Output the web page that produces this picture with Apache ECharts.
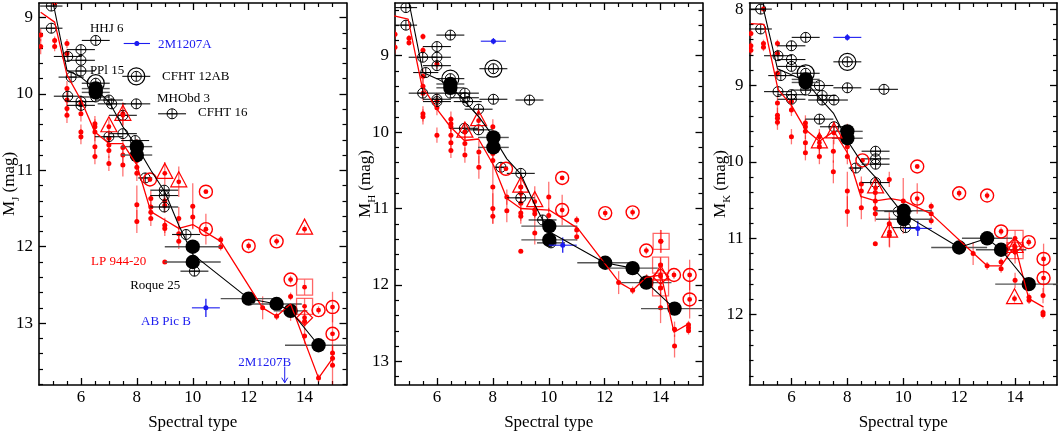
<!DOCTYPE html>
<html>
<head>
<meta charset="utf-8">
<script src="https://cdn.jsdelivr.net/npm/echarts@6/dist/echarts.min.js"></script>
<style>html,body{margin:0;background:#fff}#main{width:1058px;height:431px}</style>
</head>
<body>
<div id="main"></div>
<script>
var FONT = '"Liberation Serif", "DejaVu Serif", serif';
var RED = '#ff0000', RED_T = 'rgba(255,0,0,0.55)', BLUE = '#1c1cf0';

// ticks
var xMajor = [6, 8, 10, 12, 14];
var xMinor = [5, 5.5, 6.5, 7, 7.5, 8.5, 9, 9.5, 10.5, 11, 11.5, 12.5, 13, 13.5, 14.5, 15];
var yMajorJ = [9, 10, 11, 12, 13];
var yMajorH = [9, 10, 11, 12, 13];
var yMajorK = [8, 9, 10, 11, 12];

// ---- M_J panel ----  [spt, mag, err]
var jDots = [[4.56,9.23,0.08],[4.56,9.38,0.1],[5.06,8.81,0.03],[5.06,9.30,0.05],[5.06,9.38,0.06],
  [5.5,9.34,0.06],[5.5,9.47,0.06],[5.5,9.93,0.1],[5.5,10.08,0.1],[5.5,10.19,0.1],[5.5,10.28,0.1],
  [6.0,10.13,0.1],[6.0,10.26,0.1],[6.0,10.5,0.1],[6.0,10.56,0.1],
  [6.5,10.39,0.1],[6.5,10.43,0.1],[6.5,10.5,0.12],[6.5,10.69,0.15],[6.5,10.82,0.1],
  [7.0,10.58,0.1],[7.0,10.67,0.1],[7.0,10.74,0.1],[7.0,10.91,0.1],
  [7.5,10.26,0.15],[7.5,10.7,0.12],[7.5,10.8,0.12],[7.5,10.93,0.15],
  [8.0,10.69,0.1],[8.0,10.78,0.1],[8.0,10.87,0.1],[8.0,10.96,0.1],[8.0,11.04,0.1],[8.0,11.45,0.25],[8.0,11.67,0.15],
  [8.5,11.37,0.1],[8.5,11.48,0.1],[8.5,11.55,0.1],[8.5,11.63,0.1],
  [9.0,11.40,0.1],[9.0,11.46,0.1],[9.0,11.72,0.1],[9.0,11.76,0.1],[9.0,12.20,0],
  [9.5,11.63,0.15],[9.5,11.83,0.1],[9.5,11.93,0.1],
  [10.0,11.47,0.3],[10.0,11.61,0.15],[11.0,11.91,0.05],[11.0,12.0,0.05],
  [12.5,12.8,0.15],[13.0,12.91,0.05],[13.5,12.65,0.05],[13.5,12.87,0.1],
  [14.0,12.98,0.1],[14.0,13.17,0.1],[14.5,13.72,0.05],
  [15.0,13.39,0.1],[15.0,13.46,0.1],[15.0,13.55,0.25]];
var jOpen = [[4.94,8.85,0.4],[4.94,9.14,0.4],[6.53,9.30,0.5],[6.0,9.42,0.5],[5.53,9.51,0.5],[6.0,9.56,0.5],
  [6.0,9.70,0.5],[5.65,9.78,0.45],[5.53,10.03,0.5],[6.0,10.10,0.5],[6.0,10.15,0.5],[6.53,10.04,0.5],
  [7.0,10.08,0.5],[7.1,10.13,0.5],[7.98,10.13,0.5],[9.26,10.26,0.5],[7.5,10.28,0.5],[7.0,10.56,0.5],
  [7.5,10.52,0.5],[7.94,10.61,0.5],[8.3,11.10,0.25],[8.98,11.26,0.5],[8.98,11.33,0.5],[8.98,11.48,0.5],
  [9.76,11.84,0.5],[10.06,12.32,0.5]];
var jDouble = [[6.53,9.86,0.5],[7.98,9.77,0.5]];
var jFill = [[6.53,9.93,0.5],[6.53,9.98,0.5],[8.0,10.69,0.55],[8.0,10.8,0.55],[10.0,12.0,1.0],[10.0,12.2,1.0],
  [12.0,12.68,1.0],[13.0,12.75,0.9],[13.5,12.84,0.6],[14.5,13.29,1.2]];
var jCirc = [[8.47,11.12,0],[10.47,11.28,0],[10.47,11.77,0.2],[12.0,11.99,0.05],[13.0,11.93,0.05],
  [13.5,12.43,0.05],[14.5,12.83,0.05],[15.0,12.79,0.2],[15.0,13.14,0.25]];
var jTri = [[7.0,10.43,0.1],[7.5,10.28,0.15],[9.0,11.04,0.15],[9.5,11.15,0.2],[14.0,11.77,0.05]];
var jSquare = [[14.0,12.53,0.1],[14.0,12.78,0.1]];
var jDiamond = [[14.0,12.93,0.1]];
var jBlue = [[8.0,9.34,0.47,0.03],[10.47,12.8,0.5,0.12]];
var jRedLine = [[4.56,8.93],[5.06,9.06],[5.5,9.75],[6.0,10.08],[6.5,10.5],[7.0,10.65],[7.5,10.65],[8.0,10.93],
  [8.5,11.54],[9.0,11.65],[9.5,11.76],[10.0,11.71],[11.0,11.93],[12.5,12.8],[13.0,12.91],[13.5,12.75],[14.5,13.72],[15.0,13.46]];
var jBlackLine = [[5.0,8.8],[5.5,9.69],[6.0,9.78],[6.5,9.93],[7.0,10.1],[7.5,10.43],[8.0,10.69],[8.5,11.0],
  [9.0,11.28],[9.5,11.72],[10.0,12.1],[12.0,12.68],[13.0,12.75],[13.5,12.84],[14.5,13.29]];
// name, spt, mag, colour
var jNotes = [['HHJ 6',6.32,9.15,'#000'],['2M1207A',8.76,9.35,BLUE],['PPl 15',6.32,9.70,'#000'],
  ['CFHT 12AB',8.9,9.77,'#000'],['MHObd 3',8.72,10.06,'#000'],['CFHT 16',10.19,10.25,'#000'],
  ['LP 944-20',6.36,12.2,RED],['Roque 25',7.76,12.51,'#000'],['AB Pic B',8.15,12.98,BLUE],['2M1207B',11.63,13.51,BLUE]];
var jArrow = [[13.29,13.57,13.78]];

// ---- M_H panel ----
var hDots = [[4.5,8.72,0.06],[4.5,8.89,0.08],[5.0,8.77,0.04],[5.0,8.83,0.04],
  [5.5,8.75,0.04],[5.5,8.93,0.05],[5.5,9.27,0.1],[5.5,9.40,0.1],[5.5,9.49,0.1],[5.5,9.76,0.1],[5.5,9.80,0.1],
  [6.0,9.11,0.06],[6.0,9.59,0.1],[6.0,9.68,0.1],[6.0,10.04,0.1],
  [6.5,9.83,0.1],[6.5,9.89,0.1],[6.5,9.93,0.1],[6.5,10.04,0.1],[6.5,10.14,0.1],[6.5,10.24,0.1],
  [7.0,10.00,0.1],[7.0,10.15,0.1],[7.0,10.30,0.1],[7.5,10.26,0.15],[7.5,10.46,0.15],
  [8.0,9.93,0.1],[8.0,10.11,0.1],[8.0,10.20,0.1],[8.0,10.28,0.1],[8.0,10.37,0.1],[8.0,10.72,0.25],[8.0,11.0,0.2],[8.0,11.1,0.1],
  [8.5,10.85,0.1],[8.5,11.03,0.15],
  [9.0,10.72,0.1],[9.0,10.80,0.1],[9.0,10.93,0.1],[9.0,11.06,0.1],[9.0,11.10,0.1],[9.0,11.56,0],
  [9.5,11.02,0.1],[9.5,11.07,0.1],[9.5,11.32,0.15],[10.0,10.85,0.2],[10.0,11.09,0.1],
  [11.0,11.15,0.05],[11.0,11.28,0.05],[11.0,11.37,0.05],
  [12.5,11.97,0.15],[13.0,12.07,0.05],[13.5,11.91,0.05],
  [14.0,11.43,0.15],[14.0,11.74,0.1],[14.0,12.04,0.1],[14.0,12.30,0.2],
  [14.5,12.58,0.1],[14.5,12.80,0.15],[15.0,12.52,0.05],[15.0,12.56,0.05],[15.0,12.60,0.05]];
var hOpen = [[4.89,8.37,0.4],[4.89,8.60,0.4],[6.48,8.73,0.5],[6.0,8.88,0.5],[5.49,9.02,0.5],[6.0,9.02,0.5],
  [6.0,9.13,0.5],[5.6,9.22,0.45],[5.49,9.49,0.5],[6.0,9.57,0.5],[6.0,9.60,0.5],[6.48,9.49,0.5],[7.0,9.49,0.5],
  [7.0,9.55,0.5],[7.1,9.60,0.5],[8.02,9.57,0.5],[9.31,9.58,0.5],[7.49,9.70,0.5],[6.98,9.95,0.5],[7.49,9.97,0.5],
  [8.29,10.46,0.25],[9.0,10.54,0.5],[9.0,10.86,0.5],[9.78,11.15,0.5],[10.08,11.45,0.5]];
var hDouble = [[6.48,9.30,0.5],[8.02,9.17,0.5]];
var hFill = [[6.48,9.37,0.5],[6.48,9.42,0.5],[8.02,10.07,0.55],[8.02,10.20,0.55],[10.02,11.23,1.0],[10.02,11.41,1.0],
  [12.02,11.71,1.0],[13.0,11.78,0.9],[13.49,11.97,0.9],[14.5,12.31,1.2]];
var hCirc = [[8.47,10.48,0],[10.48,10.60,0],[10.48,11.02,0.2],[12.02,11.06,0.05],[13.0,11.05,0.05],
  [13.49,11.55,0.05],[14.48,11.87,0.05],[15.04,11.87,0.2],[15.04,12.19,0.25]];
var hTri = [[7.0,10.0,0.1],[7.49,9.85,0.15],[9.0,10.72,0.15],[9.5,10.91,0.2],[14.0,11.87,0.05]];
var hSquare = [[14.02,11.43,0.15],[14.0,11.74,0.1],[14.0,12.04,0.1]];
var hDiamond = [[14.0,11.89,0.1]];
var hBlue = [[8.02,8.81,0.45,0.04],[10.5,11.48,0.5,0.1]];
var hRedLine = [[4.47,8.48],[4.97,8.52],[5.46,9.39],[6.0,9.7],[6.48,9.93],[6.98,10.11],[7.49,10.09],[8.02,10.43],
  [8.5,10.87],[9.0,11.0],[10.02,11.02],[11.04,11.26],[12.53,11.97],[13.0,12.07],[13.49,11.9],[14.02,11.87],[14.48,12.62],[15.04,12.5]];
var hBlackLine = [[5.0,8.3],[5.5,9.22],[6.0,9.3],[6.5,9.4],[7.0,9.6],[7.5,9.8],[8.0,10.05],[8.5,10.35],
  [9.0,10.55],[9.5,10.95],[10.0,11.3],[12.0,11.71],[13.0,11.78],[13.5,11.97],[14.5,12.31]];

// ---- M_K panel ----
var kDots = [[4.55,8.32,0.06],[4.55,8.48,0.06],[4.55,8.54,0.06],[5.0,8.0,0.03],[5.0,8.45,0.05],[5.0,8.5,0.05],
  [5.5,8.45,0.05],[5.5,8.58,0.05],[5.5,8.84,0.06],[5.5,9.23,0.1],[5.5,9.39,0.1],[5.5,9.43,0.1],[5.5,9.48,0.1],
  [6.0,9.21,0.08],[6.0,9.32,0.08],[6.0,9.67,0.1],
  [6.5,9.49,0.1],[6.5,9.54,0.1],[6.5,9.6,0.1],[6.5,9.75,0.1],[6.5,9.88,0.1],
  [7.0,9.67,0.1],[7.0,9.8,0.1],[7.0,9.93,0.1],[7.5,9.86,0.15],[7.5,10.13,0.15],
  [8.0,9.6,0.1],[8.0,9.71,0.1],[8.0,9.8,0.1],[8.0,9.93,0.1],[8.0,10.38,0.25],[8.0,10.65,0.2],
  [8.5,10.29,0.1],[8.5,10.38,0.1],[8.5,10.6,0.15],
  [9.0,10.4,0.1],[9.0,10.51,0.1],[9.0,10.61,0.1],[9.0,10.68,0.1],[9.0,11.07,0],
  [9.5,10.23,0.1],[9.5,10.81,0.15],[9.5,10.96,0.15],[10.0,10.51,0.3],[10.0,10.79,0.15],
  [11.0,10.58,0.05],[11.0,10.68,0.05],[11.0,10.77,0.05],
  [12.5,11.2,0.15],[13.0,11.36,0.05],[13.5,11.31,0.05],[13.5,11.4,0.05],
  [14.0,11.18,0.15],[14.0,11.55,0.1],[14.5,11.77,0.05],[14.5,11.81,0.05],
  [15.0,11.75,0.1],[15.0,11.97,0.05],[15.0,12.0,0.05]];
var kOpen = [[4.9,8.0,0.4],[4.9,8.26,0.4],[6.51,8.37,0.5],[6.0,8.48,0.5],[5.52,8.61,0.5],[6.0,8.66,0.5],
  [6.0,8.75,0.5],[5.62,8.87,0.45],[5.52,9.08,0.5],[6.0,9.12,0.5],[6.0,9.18,0.5],[6.51,9.06,0.5],[7.0,9.0,0.5],
  [7.1,9.13,0.5],[7.1,9.19,0.5],[8.0,9.03,0.5],[9.31,9.05,0.5],[7.52,9.19,0.5],[7.0,9.44,0.5],[7.52,9.54,0.5],
  [8.3,10.08,0.25],[9.01,9.86,0.5],[9.01,9.96,0.5],[9.01,10.03,0.5],[9.01,10.27,0.5],[9.82,10.65,0.5],[10.08,10.86,0.5]];
var kDouble = [[6.51,8.84,0.5],[8.0,8.69,0.5]];
var kFill = [[6.51,8.92,0.5],[6.51,8.96,0.5],[8.0,9.6,0.55],[8.0,9.69,0.55],[10.02,10.64,1.0],[10.02,10.75,1.0],
  [12.0,11.12,1.0],[13.0,11.0,0.9],[13.5,11.15,0.9],[14.49,11.6,1.2]];
var kCirc = [[8.54,9.98,0],[10.5,10.06,0],[10.5,10.48,0.2],[12.0,10.41,0.05],[13.0,10.44,0.05],
  [13.5,10.91,0.05],[14.49,11.05,0.05],[15.02,11.27,0.2],[15.02,11.52,0.25]];
var kTri = [[7.0,9.75,0.1],[7.52,9.62,0.15],[9.01,10.34,0.15],[9.51,10.92,0.2],[13.98,11.79,0.05],[14.0,11.12,0.05]];
var kSquare = [[14.0,11.0,0.1],[14.0,11.16,0.1]];
var kDiamond = [[13.98,11.1,0.1]];
var kBlue = [[8.0,8.37,0.5,0.04],[10.52,10.87,0.5,0.1]];
var kRedLine = [[4.55,8.19],[5.02,8.2],[5.52,9.05],[6.0,9.26],[6.51,9.58],[7.0,9.73],[7.52,9.6],[8.0,9.88],
  [8.48,10.45],[9.01,10.51],[9.55,10.48],[10.02,10.51],[11.0,10.68],[12.52,11.2],[13.0,11.36],[13.5,11.36],[14.0,11.1],[14.49,11.79],[15.02,11.9]];
var kBlackLine = [[5.0,8.0],[5.5,8.78],[6.0,8.86],[6.5,8.94],[7.0,9.16],[7.5,9.36],[8.0,9.72],[8.5,10.0],
  [9.0,10.2],[9.5,10.45],[10.0,10.68],[12.0,11.12],[13.0,11.0],[13.5,11.15],[14.5,11.6]];

var panels = [
  {left: 39, yMin: 8.81, yMax: 13.81, major: yMajorJ, band: 'J', dots: jDots, open: jOpen, dbl: jDouble, fill: jFill,
   circ: jCirc, tri: jTri, sq: jSquare, dia: jDiamond, blue: jBlue, red: jRedLine, black: jBlackLine},
  {left: 395, yMin: 8.31, yMax: 13.31, major: yMajorH, band: 'H', dots: hDots, open: hOpen, dbl: hDouble, fill: hFill,
   circ: hCirc, tri: hTri, sq: hSquare, dia: hDiamond, blue: hBlue, red: hRedLine, black: hBlackLine},
  {left: 749.5, yMin: 7.92, yMax: 12.92, major: yMajorK, band: 'K', dots: kDots, open: kOpen, dbl: kDouble, fill: kFill,
   circ: kCirc, tri: kTri, sq: kSquare, dia: kDiamond, blue: kBlue, red: kRedLine, black: kBlackLine}
];

// minor ticks every 0.2 mag between the major ones
function minorMags(lo, hi) {
  var out = [];
  for (var i = Math.ceil(lo * 5); i <= Math.floor(hi * 5); i++) {
    if (i % 5 !== 0) out.push(i / 5);
  }
  return out;
}

function seg(api, a, b, stroke, w) {
  var p = api.coord(a), q = api.coord(b);
  return {type: 'line', shape: {x1: p[0], y1: p[1], x2: q[0], y2: q[1]}, style: {stroke: stroke, lineWidth: w}};
}

// how each kind of point is drawn: error bars first, then the symbol
function drawMark(kind) {
  return function (params, api) {
    var x = api.value(0), y = api.value(1), ex = api.value(2), ey = api.value(3);
    var c = api.coord([x, y]);
    var kids = [];
    var barCol = {dot: RED_T, circ: RED_T, tri: RED_T, sq: RED_T, dia: RED_T, open: '#111', dbl: '#111', fill: '#555', blue: BLUE}[kind];
    var barW = kind === 'fill' ? 1.4 : 1.1;
    if (ex) kids.push(seg(api, [x - ex, y], [x + ex, y], barCol, barW));
    if (ey) kids.push(seg(api, [x, y - ey], [x, y + ey], barCol, 1.3));
    var cx = c[0], cy = c[1];
    function cross(r) {
      kids.push({type: 'line', shape: {x1: cx - r, y1: cy, x2: cx + r, y2: cy}, style: {stroke: '#000', lineWidth: 0.9}});
      kids.push({type: 'line', shape: {x1: cx, y1: cy - r, x2: cx, y2: cy + r}, style: {stroke: '#000', lineWidth: 0.9}});
    }
    function reddot(r) {
      kids.push({type: 'circle', shape: {cx: cx, cy: cy, r: r}, style: {fill: RED}});
    }
    if (kind === 'dot') reddot(2.5);
    else if (kind === 'open') {
      kids.push({type: 'circle', shape: {cx: cx, cy: cy, r: 5}, style: {fill: 'none', stroke: '#000', lineWidth: 1}});
      cross(5);
    } else if (kind === 'dbl') {
      kids.push({type: 'circle', shape: {cx: cx, cy: cy, r: 5}, style: {fill: 'none', stroke: '#000', lineWidth: 1}});
      kids.push({type: 'circle', shape: {cx: cx, cy: cy, r: 8.5}, style: {fill: 'none', stroke: '#000', lineWidth: 1.2}});
      cross(5);
    } else if (kind === 'fill') {
      kids.push({type: 'circle', shape: {cx: cx, cy: cy, r: 7.2}, style: {fill: '#000'}});
    } else if (kind === 'circ') {
      kids.push({type: 'circle', shape: {cx: cx, cy: cy, r: 6.5}, style: {fill: 'none', stroke: RED, lineWidth: 1.4}});
      reddot(2.4);
    } else if (kind === 'tri') {
      kids.push({type: 'polygon', shape: {points: [[cx, cy - 10], [cx - 8, cy + 5], [cx + 8, cy + 5]]},
        style: {fill: 'none', stroke: RED, lineWidth: 1.2}});
      reddot(2.4);
    } else if (kind === 'sq') {
      kids.push({type: 'rect', shape: {x: cx - 8, y: cy - 8, width: 16, height: 16},
        style: {fill: 'none', stroke: 'rgba(255,0,0,0.6)', lineWidth: 1.3}});
      reddot(2.4);
    } else if (kind === 'dia') {
      kids.push({type: 'polygon', shape: {points: [[cx, cy - 8], [cx - 8, cy], [cx, cy + 8], [cx + 8, cy]]},
        style: {fill: 'none', stroke: RED, lineWidth: 1.2}});
      reddot(2.4);
    } else if (kind === 'blue') {
      kids.push({type: 'circle', shape: {cx: cx, cy: cy, r: 2.5}, style: {fill: BLUE}});
    }
    return {type: 'group', children: kids};
  };
}

var xAxes = [], yAxes = [], grids = [], series = [];

panels.forEach(function (p, g) {
  grids.push({left: p.left, top: 3, width: 307.5, height: 382, containLabel: false, outerBoundsMode: 'none'});
  var base = {gridIndex: g, type: 'value', min: 4.5, max: 15.5, splitLine: {show: false}};
  var lineOn = {show: true, onZero: false, lineStyle: {color: '#000', width: 1.6}};
  xAxes.push(Object.assign({}, base, {position: 'bottom', axisLine: lineOn,
    axisTick: {inside: true, length: 7, customValues: xMajor, lineStyle: {color: '#000', width: 1.3}},
    axisLabel: {customValues: xMajor, fontFamily: FONT, fontSize: 17, color: '#000', margin: 4},
    name: 'Spectral type', nameLocation: 'middle', nameGap: 29,
    nameTextStyle: {fontFamily: FONT, fontSize: 17, color: '#000'}}));
  xAxes.push(Object.assign({}, base, {position: 'bottom', axisLine: {show: false},
    axisTick: {inside: true, length: 4, customValues: xMinor, lineStyle: {color: '#000', width: 1.2}},
    axisLabel: {show: false}}));
  xAxes.push(Object.assign({}, base, {position: 'top', axisLine: lineOn,
    axisTick: {inside: true, length: 7, customValues: xMajor, lineStyle: {color: '#000', width: 1.3}},
    axisLabel: {show: false}}));
  xAxes.push(Object.assign({}, base, {position: 'top', axisLine: {show: false},
    axisTick: {inside: true, length: 4, customValues: xMinor, lineStyle: {color: '#000', width: 1.2}},
    axisLabel: {show: false}}));

  var minor = minorMags(p.yMin, p.yMax);
  var yb = {gridIndex: g, type: 'value', inverse: true, min: p.yMin, max: p.yMax, splitLine: {show: false}};
  yAxes.push(Object.assign({}, yb, {position: 'left', axisLine: lineOn,
    axisTick: {inside: true, length: 7, customValues: p.major, lineStyle: {color: '#000', width: 1.3}},
    axisLabel: {customValues: p.major, fontFamily: FONT, fontSize: 17, color: '#000', margin: 6},
    name: '{g|}{m|M}{s|' + p.band + '}{m| (mag)}', nameLocation: 'middle', nameGap: 17, nameMoveOverlap: false,
    nameTextStyle: {fontFamily: FONT, fontSize: 17, color: '#000', rich: {
      g: {width: 20},
      m: {fontFamily: FONT, fontSize: 17, color: '#000', lineHeight: 24},
      s: {fontFamily: FONT, fontSize: 11, color: '#000', lineHeight: 11, verticalAlign: 'bottom'}}}}));
  yAxes.push(Object.assign({}, yb, {position: 'left', axisLine: {show: false},
    axisTick: {inside: true, length: 4, customValues: minor, lineStyle: {color: '#000', width: 1.2}},
    axisLabel: {show: false}}));
  yAxes.push(Object.assign({}, yb, {position: 'right', axisLine: lineOn,
    axisTick: {inside: true, length: 7, customValues: p.major, lineStyle: {color: '#000', width: 1.3}},
    axisLabel: {show: false}}));
  yAxes.push(Object.assign({}, yb, {position: 'right', axisLine: {show: false},
    axisTick: {inside: true, length: 4, customValues: minor, lineStyle: {color: '#000', width: 1.2}},
    axisLabel: {show: false}}));

  function marks(kind, rows) {
    var data = rows.map(function (r) {
      if (kind === 'blue') return r;
      if (kind === 'open' || kind === 'dbl' || kind === 'fill') return [r[0], r[1], r[2], 0];
      return [r[0], r[1], 0, r[2]];
    });
    series.push({type: 'custom', xAxisIndex: g * 4, yAxisIndex: g * 4, clip: true, silent: true,
      encode: {x: 0, y: 1}, data: data, renderItem: drawMark(kind)});
  }
  function line(rows, color, w) {
    series.push({type: 'line', xAxisIndex: g * 4, yAxisIndex: g * 4, data: rows, showSymbol: false,
      silent: true, lineStyle: {color: color, width: w}, z: 3});
  }

  marks('dot', p.dots);
  line(p.red, RED, 1.3);
  line(p.black, '#000', 1.1);
  marks('open', p.open);
  marks('dbl', p.dbl);
  marks('fill', p.fill);
  marks('circ', p.circ);
  marks('tri', p.tri);
  marks('sq', p.sq);
  marks('dia', p.dia);
  marks('blue', p.blue);
});

// object names in the J panel
series.push({type: 'custom', xAxisIndex: 0, yAxisIndex: 0, silent: true,
  data: jNotes.map(function (n) { return [n[1], n[2]]; }),
  renderItem: function (params, api) {
    var c = api.coord([api.value(0), api.value(1)]);
    var n = jNotes[params.dataIndex];
    return {type: 'text', x: c[0], y: c[1], style: {text: n[0], fill: n[3], font: '13px ' + FONT,
      textAlign: 'left', textVerticalAlign: 'middle'}};
  }});
series.push({type: 'custom', xAxisIndex: 0, yAxisIndex: 0, silent: true, data: jArrow,
  renderItem: function (params, api) {
    var x = api.value(0);
    var a = api.coord([x, api.value(1)]), b = api.coord([x, api.value(2)]);
    return {type: 'group', children: [
      {type: 'line', shape: {x1: a[0], y1: a[1], x2: b[0], y2: b[1]}, style: {stroke: BLUE, lineWidth: 1}},
      {type: 'polyline', shape: {points: [[b[0] - 3, b[1] - 5], [b[0], b[1]], [b[0] + 3, b[1] - 5]]},
        style: {stroke: BLUE, lineWidth: 1, fill: 'none'}}]};
  }});

var chart = echarts.init(document.getElementById('main'));
chart.setOption({
  animation: false,
  backgroundColor: '#fff',
  grid: grids,
  xAxis: xAxes,
  yAxis: yAxes,
  series: series
});
</script>
</body>
</html>
